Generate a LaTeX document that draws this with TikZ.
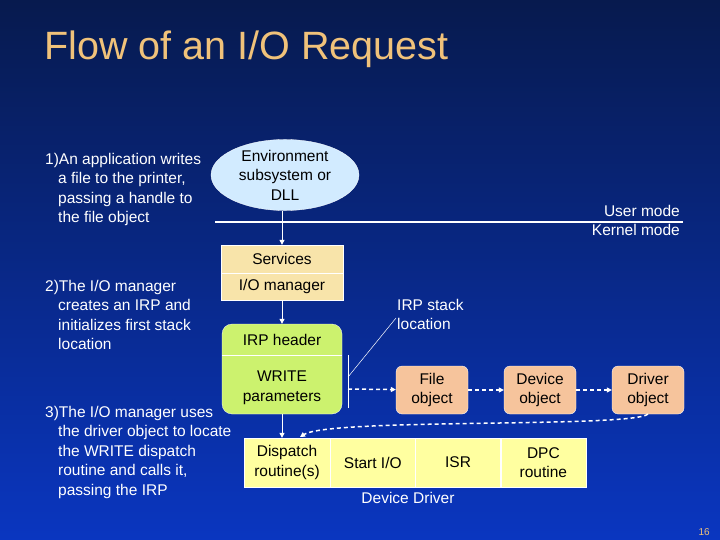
\documentclass[tikz,border=0pt]{standalone}
\usepackage{fontspec}
\setmainfont{Liberation Sans}
\usetikzlibrary{shapes.geometric,arrows.meta}
\definecolor{bgtop}{HTML}{071A4E}
\definecolor{bgbot}{HTML}{0A36C0}
\definecolor{titlecol}{HTML}{F0C27A}
\definecolor{envcol}{HTML}{D2EBFF}
\definecolor{srvcol}{HTML}{F8E4AA}
\definecolor{irpcol}{HTML}{CCF26E}
\definecolor{objcol}{HTML}{F6C49C}
\definecolor{drvcol}{HTML}{FFFFA0}
\begin{document}
\begin{tikzpicture}[x=1pt,y=-1pt,
  txt/.style={text=white,font=\fontsize{15.5}{19.5}\selectfont,inner sep=0pt},
  cell/.style={draw=white,line width=0.3pt,inner sep=0pt,text=black,align=center,font=\fontsize{15.5}{19.5}\selectfont},
  obj/.style={cell,fill=objcol,rounded corners=6pt,minimum width=72pt,minimum height=48pt},
  dcell/.style={cell,fill=drvcol,minimum width=85pt,minimum height=49pt},
  arr/.style={white,line width=1pt,-{Triangle[length=5pt,width=5pt]}},
  darr/.style={white,line width=1.5pt,dash pattern=on 4pt off 3pt,-{Triangle[length=5pt,width=5pt]}}]
\shade[top color=bgtop,bottom color=bgbot] (0,0) rectangle (720,540);
\useasboundingbox (0,0) rectangle (720,540);
\node[anchor=base west,text=titlecol,font=\fontsize{39.5}{44}\selectfont,inner sep=0pt] (title) at (44,60) {Flow of an I/O Request};
\node[anchor=base east,text=titlecol,font=\fontsize{10}{12}\selectfont,inner sep=0pt] (page) at (710,535) {16};

% left texts
\node[txt,anchor=north west,align=left] (t1) at (45,153) {1)An application writes\\\hspace*{13pt}a file to the printer,\\\hspace*{13pt}passing a handle to\\\hspace*{13pt}the file object};
\node[txt,anchor=north west,align=left] (t2) at (45,280) {2)The I/O manager\\\hspace*{13pt}creates an IRP and\\\hspace*{13pt}initializes first stack\\\hspace*{13pt}location};
\node[txt,anchor=north west,align=left] (t3) at (45,406) {3)The I/O manager uses\\\hspace*{13pt}the driver object to locate\\\hspace*{13pt}the WRITE dispatch\\\hspace*{13pt}routine and calls it,\\\hspace*{13pt}passing the IRP};

% user / kernel
\draw[white,line width=1.5pt] (215,222) coordinate (ml) -- (683,222) coordinate (mr);
\node[txt,anchor=base east] (um) at (680,217) {User mode};
\node[txt,anchor=base east] (km) at (680,236) {Kernel mode};

% environment
\node[ellipse,fill=envcol,draw=white,line width=0.3pt,minimum width=148pt,minimum height=70pt,inner sep=0pt,align=center,
  font=\fontsize{15.5}{19.5}\selectfont] (env) at (285,175) {Environment\\subsystem or\\DLL};

% services / io manager
\node[cell,fill=srvcol,minimum width=122pt,minimum height=28pt] (srv) at (282,259) {Services};
\node[cell,fill=srvcol,minimum width=122pt,minimum height=27pt,anchor=north] (iom) at (srv.south) {I/O manager};

% IRP
\node[cell,fill=irpcol,rounded corners=10pt,minimum width=120pt,minimum height=90pt] (irp) at (282,369) {};
\draw[white,line width=0.3pt] (irp.west |- 0,355) -- (irp.east |- 0,355);
\node[cell,draw=none] (irph) at (282,340) {IRP header};
\node[cell,draw=none] (wp) at (282,388) {WRITE\\parameters};

% stack location marker
\coordinate (sl1) at (348,355);
\coordinate (sl2) at (348,408);
\draw[white,line width=0.5pt] (sl1) -- (sl2);
\coordinate (slm) at (348,377);
\node[txt,anchor=north west,align=left] (sltxt) at (397,299) {IRP stack\\location};
\draw[white,line width=0.5pt] (slm) -- (396,318);
\coordinate (ds) at (348,389);

% objects
\node[obj] (file) at (432,390) {File\\object};
\node[obj] (dev) at (540,390) {Device\\object};
\node[obj] (drv) at (648,390) {Driver\\object};
\draw[darr] (ds) -- (file);
\draw[darr] (file) -- (dev);
\draw[darr] (dev) -- (drv);

% device driver
\node[dcell,minimum width=86pt] (disp) at (287,462.5) {Dispatch\\routine(s)};
\node[dcell,anchor=west] (sio) at (disp.east) {Start I/O};
\node[dcell,anchor=west] (isr) at (sio.east) {ISR};
\node[dcell,anchor=west] (dpc) at (isr.east) {DPC\\routine};
\node[txt,anchor=base] (ddl) at (408,503) {Device Driver};

% arrows
\draw[arr] (env.south -| srv.north) -- (srv.north);
\draw[arr] (iom.south) -- (irp.north);
\draw[arr] (irp.south) -- (disp.north -| irp.south);
\draw[darr] (drv.south) .. controls (630,428) and (330,418) .. (300,437);
\end{tikzpicture}
\end{document}
